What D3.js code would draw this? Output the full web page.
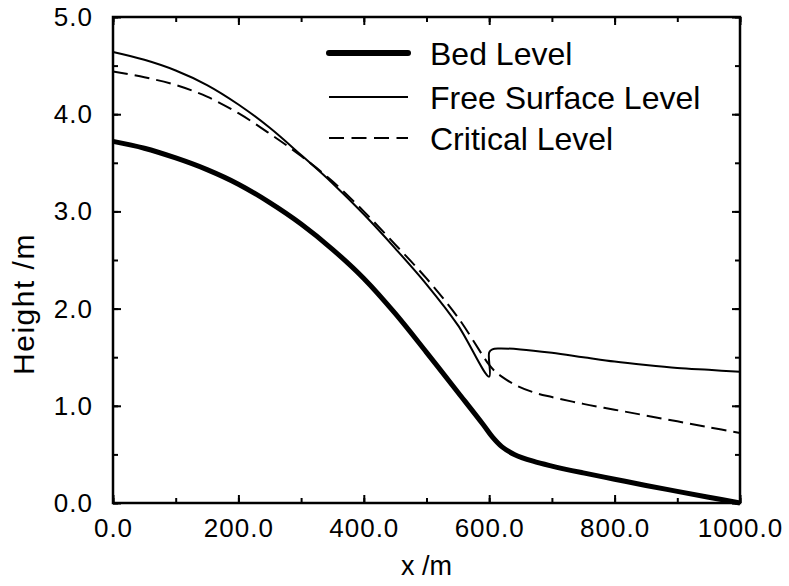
<!DOCTYPE html>
<html>
<head>
<meta charset="utf-8">
<script src="https://cdn.jsdelivr.net/npm/d3@7"></script>
<style>
  body { margin: 0; background: #fff; }
  text { font-family: "Liberation Sans", Arial, Helvetica, sans-serif; fill: #000; }
</style>
</head>
<body>
<div id="chart"></div>
<script>
// data
const bedX = [0, 50, 100, 150, 200, 250, 300, 350, 400, 450, 500, 550, 590, 605, 620, 640, 670, 700, 750, 800, 850, 900, 950, 1000];
const bedY = [3.72, 3.65, 3.55, 3.43, 3.28, 3.09, 2.87, 2.61, 2.31, 1.95, 1.55, 1.14, 0.81, 0.68, 0.58, 0.50, 0.43, 0.38, 0.31, 0.245, 0.18, 0.12, 0.06, 0.0];

const freeX = [0, 50, 100, 150, 200, 250, 300, 350, 400, 450, 500, 550, 600, 600, 605, 615, 650, 700, 750, 800, 850, 900, 950, 1000];
const freeY = [4.64, 4.56, 4.45, 4.30, 4.10, 3.86, 3.58, 3.29, 2.97, 2.62, 2.25, 1.83, 1.30, 1.55, 1.58, 1.59, 1.58, 1.545, 1.50, 1.455, 1.42, 1.39, 1.37, 1.35];

const critX = [0, 50, 100, 150, 200, 250, 300, 350, 400, 450, 500, 550, 600, 610, 620, 640, 670, 700, 750, 800, 850, 900, 950, 1000];
const critY = [4.44, 4.38, 4.30, 4.18, 4.01, 3.80, 3.57, 3.31, 3.00, 2.66, 2.31, 1.91, 1.42, 1.35, 1.30, 1.22, 1.14, 1.09, 1.02, 0.96, 0.90, 0.84, 0.78, 0.72];

const xTicks = [0, 200, 400, 600, 800, 1000];
const yTicks = [0, 1, 2, 3, 4, 5];
const seriesNames = ["Bed Level", "Free Surface Level", "Critical Level"];

// constants
const w = 789,
      h = 586,
      xLeft = 113,
      xRight = 740,
      yTop = 17,
      yBottom = 503;

let svg = d3.select("#chart")
            .append("svg")
            .attr("width", w)
            .attr("height", h);

let xScale = d3.scaleLinear().domain([0, 1000]).range([xLeft, xRight]);
let yScale = d3.scaleLinear().domain([0, 5]).range([yBottom, yTop]);

// minor + major ticks, pointing inward on all four sides
const xMinor = d3.range(0, 1001, 100),
      yMinor = d3.range(0, 5.01, 0.5);

function tickAxis(axisFn, scale, minor, major, pos) {
  svg.append("g")
     .attr("transform", pos)
     .call(axisFn(scale).tickValues(minor).tickSize(-5).tickFormat(""))
     .call(g => g.select(".domain").remove());
  svg.append("g")
     .attr("transform", pos)
     .call(axisFn(scale).tickValues(major).tickSize(-8).tickFormat(""))
     .call(g => g.select(".domain").remove());
}
tickAxis(d3.axisBottom, xScale, xMinor, xTicks, `translate(0, ${yBottom})`);
tickAxis(d3.axisTop, xScale, xMinor, xTicks, `translate(0, ${yTop})`);
tickAxis(d3.axisLeft, yScale, yMinor, yTicks, `translate(${xLeft}, 0)`);
tickAxis(d3.axisRight, yScale, yMinor, yTicks, `translate(${xRight}, 0)`);
svg.selectAll(".tick line").attr("stroke", "#000").attr("stroke-width", 2);

// frame
svg.append("rect")
   .attr("x", xLeft)
   .attr("y", yTop)
   .attr("width", xRight - xLeft)
   .attr("height", yBottom - yTop)
   .attr("fill", "none")
   .attr("stroke", "#000")
   .attr("stroke-width", 2.5);

// tick labels
svg.selectAll(".xlab")
   .data(xTicks)
   .enter()
   .append("text")
   .attr("x", d => xScale(d) + 0.5)
   .attr("y", yBottom + 34)
   .attr("text-anchor", "middle")
   .style("font-size", "26px")
   .style("letter-spacing", "1px")
   .text(d => d.toFixed(1));

svg.selectAll(".ylab")
   .data(yTicks)
   .enter()
   .append("text")
   .attr("x", xLeft - 20)
   .attr("y", d => yScale(d) + 9)
   .attr("text-anchor", "end")
   .style("font-size", "26px")
   .style("letter-spacing", "1px")
   .text(d => d.toFixed(1));

// axis titles
svg.append("text")
   .attr("x", (xLeft + xRight) / 2)
   .attr("y", 575)
   .attr("text-anchor", "middle")
   .style("font-size", "27px")
   .text("x /m");

svg.append("text")
   .attr("transform", `translate(34, 304) rotate(-90)`)
   .attr("text-anchor", "middle")
   .style("font-size", "30px")
   .style("letter-spacing", "1.5px")
   .text("Height /m");

// lines
const styles = [
  { xs: bedX, ys: bedY, width: 5, dash: null },
  { xs: freeX, ys: freeY, width: 2, dash: null },
  { xs: critX, ys: critY, width: 2, dash: "15,7" }
];

let line = d3.line()
             .x(d => xScale(d[0]))
             .y(d => yScale(d[1]))
             .curve(d3.curveCatmullRom.alpha(0.5));

styles.forEach(s => {
  svg.append("path")
     .datum(s.xs.map((x, i) => [x, s.ys[i]]))
     .attr("d", line)
     .attr("fill", "none")
     .attr("stroke", "#000")
     .attr("stroke-width", s.width)
     .attr("stroke-dasharray", s.dash);
});

// legend
const legY = [53, 97, 138];
styles.forEach((s, i) => {
  svg.append("line")
     .attr("x1", 329)
     .attr("x2", 408)
     .attr("y1", legY[i])
     .attr("y2", legY[i])
     .attr("stroke", "#000")
     .attr("stroke-width", i == 0 ? 6 : 2)
     .attr("stroke-linecap", i == 0 ? "round" : "butt")
     .attr("stroke-dasharray", i == 2 ? "15,7.5" : null);
  svg.append("text")
     .attr("x", 430)
     .attr("y", legY[i] + 12)
     .style("font-size", "32px")
     .text(seriesNames[i]);
});
</script>
</body>
</html>
